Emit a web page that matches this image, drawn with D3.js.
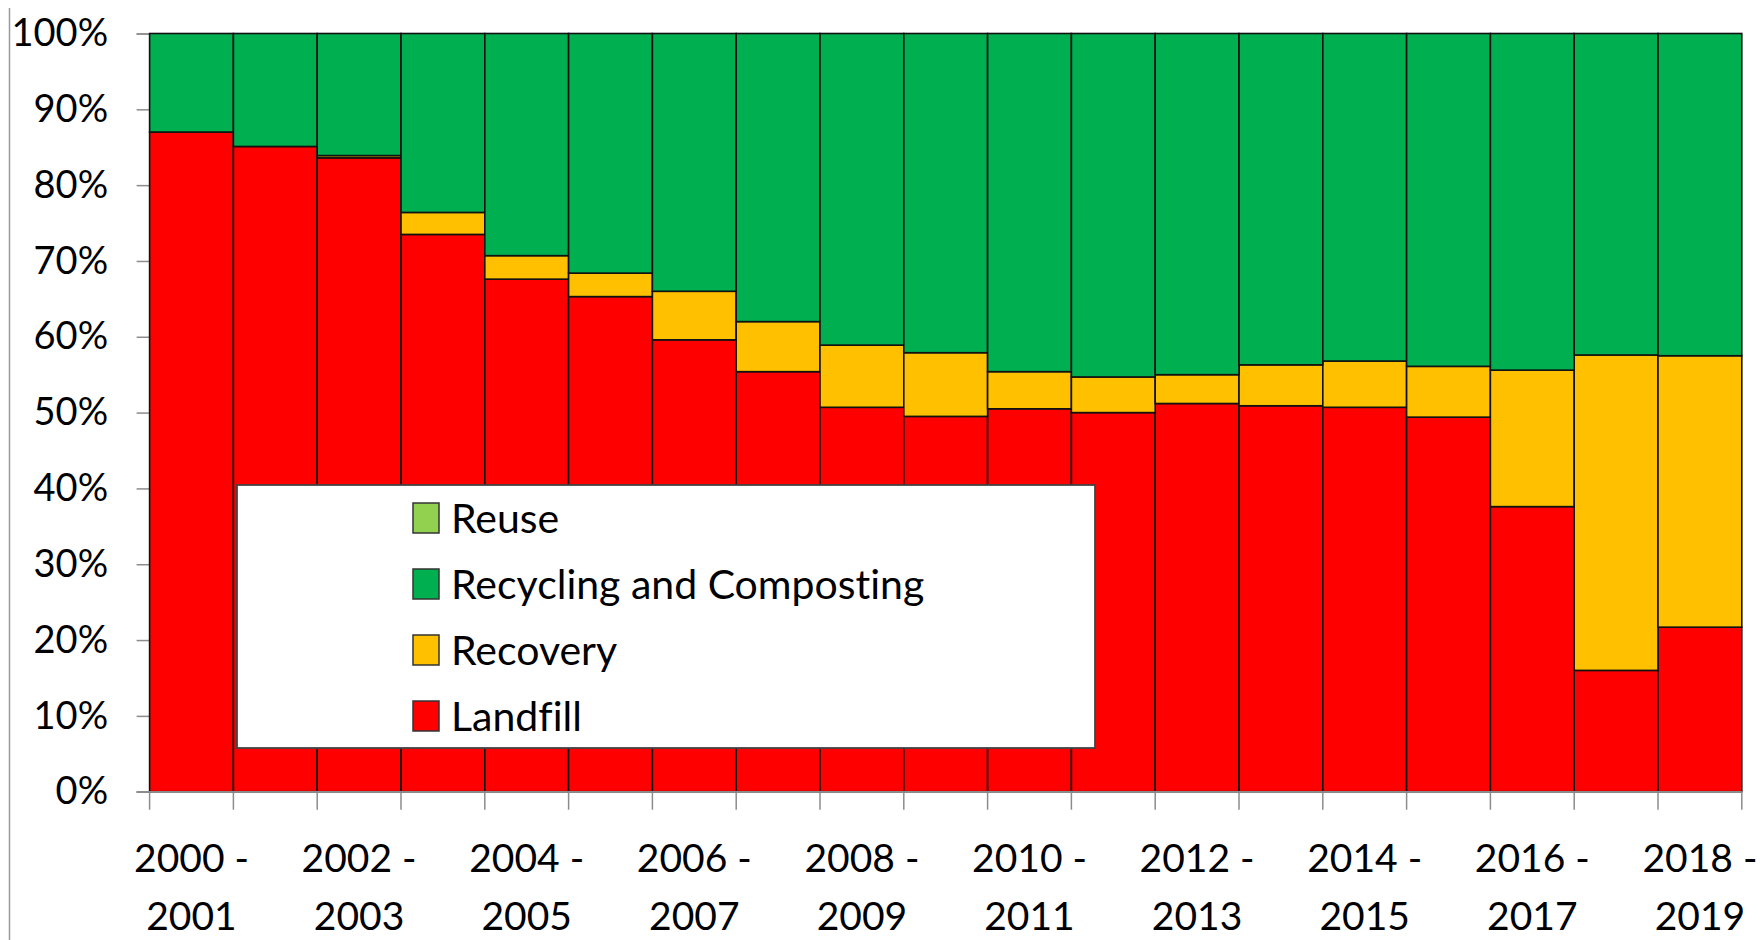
<!DOCTYPE html>
<html>
<head>
<meta charset="utf-8">
<script src="https://cdn.jsdelivr.net/npm/d3@7"></script>
<style>
  html, body { margin: 0; padding: 0; background: #ffffff; }
  svg { display: block; }
  text { font-family: Lato, "Open Sans", "Noto Sans", sans-serif; fill: #000; font-variant-ligatures: none; }
</style>
</head>
<body>
<svg id="chart" width="1764" height="940"></svg>
<script>
// ---- data (percent shares) ----
const categories = ["2000 - 2001","2001 - 2002","2002 - 2003","2003 - 2004","2004 - 2005",
  "2005 - 2006","2006 - 2007","2007 - 2008","2008 - 2009","2009 - 2010","2010 - 2011",
  "2011 - 2012","2012 - 2013","2013 - 2014","2014 - 2015","2015 - 2016","2016 - 2017",
  "2017 - 2018","2018 - 2019"];
const landfill  = [87.0, 85.1, 83.6, 73.5, 67.6, 65.3, 59.6, 55.4, 50.7, 49.5, 50.5, 50.0, 51.2, 50.9, 50.7, 49.4, 37.6, 16.0, 21.7];
const recovery  = [ 0.0,  0.0,  0.3,  2.9,  3.1,  3.1,  6.4,  6.6,  8.2,  8.4,  4.9,  4.7,  3.8,  5.4,  6.1,  6.7, 18.0, 41.6, 35.8];
const recycling = [13.0, 14.9, 16.1, 23.6, 29.3, 31.6, 34.0, 38.0, 41.1, 42.1, 44.6, 45.3, 45.0, 43.7, 43.2, 43.9, 44.4, 42.4, 42.5];
const reuse     = [ 0.0,  0.0,  0.0,  0.0,  0.0,  0.0,  0.0,  0.0,  0.0,  0.0,  0.0,  0.0,  0.0,  0.0,  0.0,  0.0,  0.0,  0.0,  0.0];
const seriesNames = ["Landfill", "Recovery", "Recycling and Composting", "Reuse"]; // stacking order, bottom to top
const legendOrder = ["Reuse", "Recycling and Composting", "Recovery", "Landfill"];
const yTicks = [0, 0.1, 0.2, 0.3, 0.4, 0.5, 0.6, 0.7, 0.8, 0.9, 1.0];
const labelledCategories = ["2000 - 2001","2002 - 2003","2004 - 2005","2006 - 2007","2008 - 2009",
  "2010 - 2011","2012 - 2013","2014 - 2015","2016 - 2017","2018 - 2019"];

// ---- styles ----
const colors = {
  "Landfill": "#FF0000",
  "Recovery": "#FFC000",
  "Recycling and Composting": "#00B050",
  "Reuse": "#92D050"
};

const rows = categories.map((c, i) => ({
  cat: c,
  "Landfill": landfill[i],
  "Recovery": recovery[i],
  "Recycling and Composting": recycling[i],
  "Reuse": reuse[i]
}));

const svg = d3.select("#chart");
const mLeft = 149.6, mRight = 1741.8, mTop = 33.5, mBottom = 791.7;

const x = d3.scaleBand().domain(categories).range([mLeft, mRight]).padding(0);
const y = d3.scaleLinear().domain([0, 1]).range([mBottom, mTop]);

const stack = d3.stack().keys(seriesNames).offset(d3.stackOffsetExpand);
const stacked = stack(rows);

// page left border line
svg.append("line")
  .attr("x1", 9.5).attr("x2", 9.5).attr("y1", 8).attr("y2", 940)
  .attr("stroke", "#9a9a9a").attr("stroke-width", 1.5);

// y axis
const yAxis = svg.append("g")
  .attr("transform", `translate(${mLeft},0)`)
  .call(d3.axisLeft(y).tickValues(yTicks).tickFormat(d3.format(".0%")).tickSize(13).tickPadding(28.5));
yAxis.select(".domain").attr("stroke", "#8c8c8c").attr("stroke-width", 1.5);
yAxis.selectAll(".tick line").attr("stroke", "#8c8c8c").attr("stroke-width", 1.5);
yAxis.selectAll(".tick text")
  .style("font-family", "Lato, 'Open Sans', sans-serif")
  .style("font-size", "38px").attr("fill", "#000");

// bars
const layers = svg.append("g").selectAll("g")
  .data(stacked).join("g")
  .attr("fill", d => colors[d.key]);

layers.selectAll("rect")
  .data(d => d.filter(s => s[1] - s[0] > 0))
  .join("rect")
  .attr("x", d => x(d.data.cat))
  .attr("width", x.bandwidth())
  .attr("y", d => y(d[1]))
  .attr("height", d => y(d[0]) - y(d[1]))
  .attr("stroke", "#111")
  .attr("stroke-width", 1.6);

// x axis: domain line and ticks at category boundaries
const xAxisG = svg.append("g").attr("transform", `translate(0,${mBottom})`);
xAxisG.append("line")
  .attr("x1", mLeft - 13).attr("x2", mRight)
  .attr("y1", 0).attr("y2", 0)
  .attr("stroke", "#8c8c8c").attr("stroke-width", 1.5);
const boundaries = categories.map(c => x(c)).concat([x(categories[categories.length - 1]) + x.bandwidth()]);
xAxisG.selectAll("line.tk")
  .data(boundaries).join("line")
  .attr("class", "tk")
  .attr("x1", d => d).attr("x2", d => d)
  .attr("y1", 0).attr("y2", 18)
  .attr("stroke", "#8c8c8c").attr("stroke-width", 1.5);

// x labels (two lines, every other category)
const xl = svg.append("g").selectAll("text")
  .data(labelledCategories).join("text")
  .attr("text-anchor", "middle")
  .style("font-size", "39px");
xl.append("tspan")
  .attr("x", d => x(d) + x.bandwidth() / 2)
  .attr("y", 872)
  .text(d => d.split(" - ")[0] + " -");
xl.append("tspan")
  .attr("x", d => x(d) + x.bandwidth() / 2)
  .attr("y", 930)
  .text(d => d.split(" - ")[1]);

// legend
const lg = svg.append("g");
lg.append("rect")
  .attr("x", 237).attr("y", 485).attr("width", 858).attr("height", 263)
  .attr("fill", "#fff").attr("stroke", "#444").attr("stroke-width", 1.8);
const items = lg.selectAll("g.item")
  .data(legendOrder).join("g")
  .attr("class", "item")
  .attr("transform", (d, i) => `translate(413,${518 + i * 66})`);
items.append("rect")
  .attr("x", 0).attr("y", -15).attr("width", 26).attr("height", 30)
  .attr("fill", d => colors[d]).attr("stroke", "#333").attr("stroke-width", 1.5);
items.append("text")
  .attr("x", 38).attr("y", 15)
  .style("font-size", "41px")
  .text(d => d);
</script>
</body>
</html>
